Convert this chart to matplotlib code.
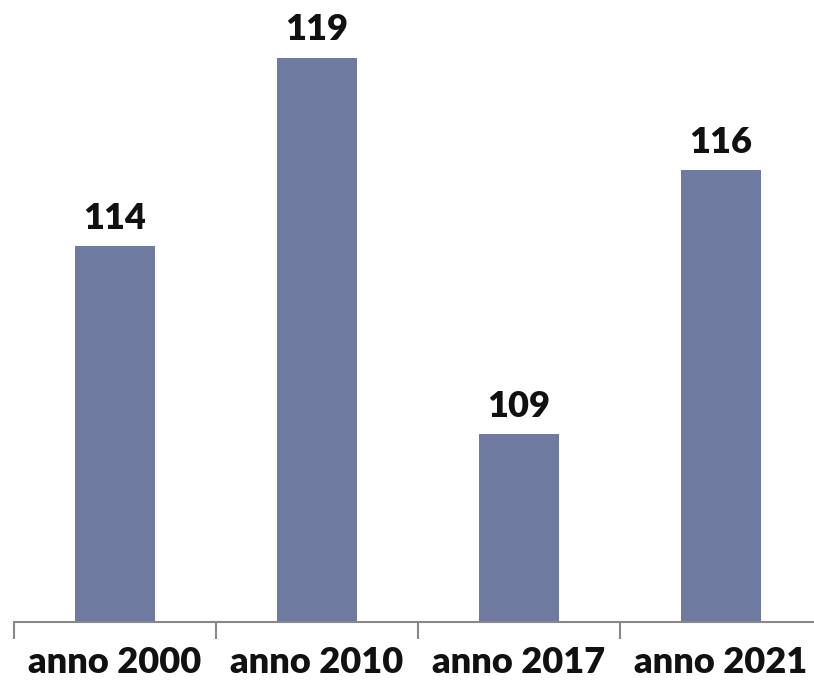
import matplotlib.pyplot as plt

anni = ["anno 2000", "anno 2010", "anno 2017", "anno 2021"]
valori = [114, 119, 109, 116]

colore_barre = "#6F7AA0"

fig = plt.figure(figsize=(8.14, 6.82), dpi=100)
ax = fig.add_axes([14 / 814, 60 / 682, 808 / 814, 622 / 682])

x = list(range(len(anni)))
barre = ax.bar(x, valori, width=0.4, color=colore_barre)

ax.set_xlim(-0.5, 3.5)
ax.set_ylim(104, 120.53)

ax.bar_label(barre, labels=[str(v) for v in valori], padding=8,
             fontsize=26, fontweight="heavy", family="Lato", color="#111111")

ax.set_xticks(x)
ax.set_xticklabels(anni, fontsize=26, fontweight="heavy", family="Lato", color="#111111")
ax.set_xticks([i - 0.5 for i in range(len(anni) + 1)], minor=True)
ax.tick_params(axis="x", which="major", length=0, pad=17)
ax.tick_params(axis="x", which="minor", length=12, width=1.5, color="#888888")

ax.set_yticks([])
for lato in ["top", "right", "left"]:
    ax.spines[lato].set_visible(False)
ax.spines["bottom"].set_color("#888888")
ax.spines["bottom"].set_linewidth(1.5)

fig.savefig("out.png", dpi=100)
